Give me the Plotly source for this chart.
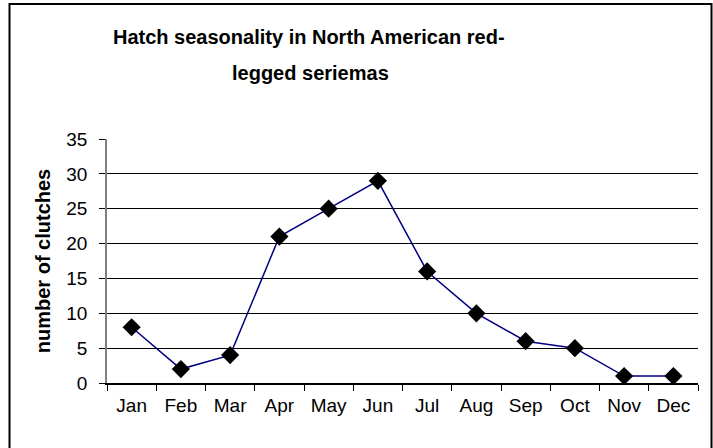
import plotly.graph_objects as go

months = ["Jan", "Feb", "Mar", "Apr", "May", "Jun", "Jul", "Aug", "Sep", "Oct", "Nov", "Dec"]
clutches = [8, 2, 4, 21, 25, 29, 16, 10, 6, 5, 1, 1]
y_ticks = [0, 5, 10, 15, 20, 25, 30, 35]

W, H = 713, 448
L, R, T, B = 107, 15, 139, 65
pw, ph = W - L - R, H - T - B

def px(x):
    return (x - L) / pw

def py(y):
    return (H - B - y) / ph

FONT = "Liberation Sans, Arial, sans-serif"

fig = go.Figure()
fig.add_trace(go.Scatter(
    x=months, y=clutches, mode="lines+markers",
    line=dict(color="#000080", width=1.5),
    marker=dict(symbol="diamond", size=14, color="black"),
    showlegend=False, hoverinfo="skip",
))

fig.update_layout(
    width=W, height=H,
    margin=dict(l=L, r=R, t=T, b=B),
    paper_bgcolor="white", plot_bgcolor="white",
    font=dict(family=FONT, color="black", size=19),
    xaxis=dict(
        type="category", tickson="boundaries", ticks="outside", ticklen=6,
        tickcolor="black", showline=True, linecolor="black", linewidth=1.5,
        showgrid=False, tickfont=dict(size=19), ticklabelstandoff=4,
        range=[-0.5, 11.5], fixedrange=True,
    ),
    yaxis=dict(
        range=[0, 35], tickvals=y_ticks, ticks="outside", ticklen=6,
        tickcolor="black", showline=True, linecolor="#808080", linewidth=1.5,
        showgrid=True, gridcolor="black", gridwidth=1.2, zeroline=False,
        tickfont=dict(size=19), ticklabelstandoff=8, fixedrange=True,
        title=dict(text="<b>number of clutches</b>", font=dict(size=20), standoff=10),
    ),
    annotations=[
        dict(text="<b>Hatch seasonality in North American red-</b>", xref="paper", yref="paper",
             x=px(309), y=py(37), xanchor="center", yanchor="middle", showarrow=False,
             font=dict(size=20)),
        dict(text="<b>legged seriemas</b>", xref="paper", yref="paper",
             x=px(310), y=py(73), xanchor="center", yanchor="middle", showarrow=False,
             font=dict(size=20)),
    ],
    shapes=[
        dict(type="rect", xref="paper", yref="paper",
             x0=px(9.5), x1=px(711.5), y0=py(460), y1=py(4),
             line=dict(color="black", width=2), fillcolor="rgba(0,0,0,0)", layer="above"),
    ],
)

fig.write_html("out.html", config={"displayModeBar": False},
               post_script="document.body.style.margin='0';document.body.style.padding='0';")
